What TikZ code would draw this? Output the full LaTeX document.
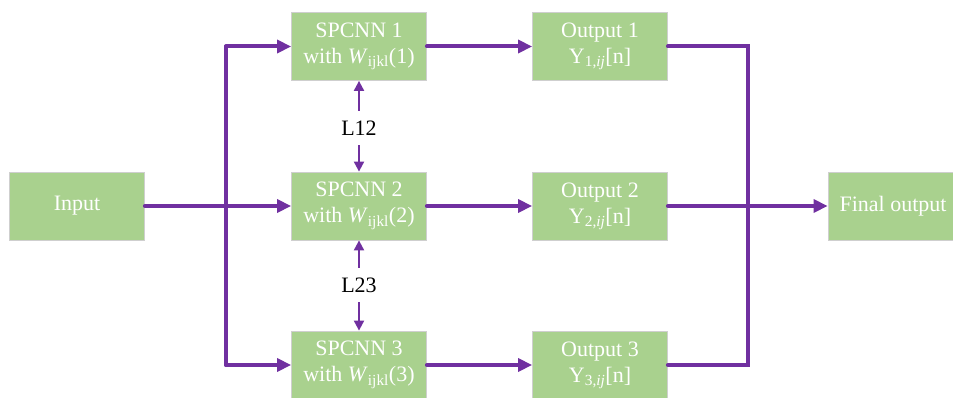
\documentclass[tikz,border=0pt]{standalone}
\usepackage{fontspec}
\setmainfont{Liberation Serif}
\usetikzlibrary{arrows.meta}
\definecolor{boxgreen}{HTML}{A9D18E}
\definecolor{boxedge}{HTML}{CFCFCF}
\definecolor{flowpurple}{HTML}{7030A0}
\tikzset{
  block/.style={draw=boxedge, line width=0.8pt, fill=boxgreen, text=white,
    minimum width=135pt, minimum height=68pt, align=center,
    font=\fontsize{22}{26}\selectfont, inner sep=0pt},
  flow/.style={draw=flowpurple, line width=4pt, line join=miter, line cap=round},
  flowarrow/.style={flow, -{Triangle[length=14pt,width=13pt]}},
  linkarrow/.style={draw=flowpurple, line width=2pt, -{Triangle[length=10pt,width=10pt]}},
  linklabel/.style={font=\fontsize{22}{26}\selectfont, inner sep=0pt, minimum height=34pt}
}
\begin{document}
\begin{tikzpicture}[x=1pt,y=1pt]
\useasboundingbox (0,0) rectangle (953,397);
% blocks
\node[block] (in) at (77,191) {Input};
\node[block] (sp1) at (359,350.5) {SPCNN 1\\with \textit{W}\textsubscript{ijkl}(1)};
\node[block] (sp2) at (359,191) {SPCNN 2\\with \textit{W}\textsubscript{ijkl}(2)};
\node[block] (sp3) at (359,32) {SPCNN 3\\with \textit{W}\textsubscript{ijkl}(3)};
\node[block] (o1) at (600,350.5) {Output 1\\Y\textsubscript{1,\textit{ij}}[n]};
\node[block] (o2) at (600,191) {Output 2\\Y\textsubscript{2,\textit{ij}}[n]};
\node[block] (o3) at (600,32) {Output 3\\Y\textsubscript{3,\textit{ij}}[n]};
\node[block, minimum width=130pt] (fin) at (893,191) {Final output};
% link labels between neighbouring networks
\node[linklabel] (l12) at (359,269) {L12};
\node[linklabel] (l23) at (359,112) {L23};
% input distribution
\coordinate (jl) at (226,191);
\coordinate (jr) at (748,191);
\draw[flowarrow] (in.east) -- (sp2.west);
\draw[flow] (sp1.west -| jl) -- (sp3.west -| jl);
\draw[flowarrow] (sp1.west -| jl) -- (sp1.west);
\draw[flowarrow] (sp3.west -| jl) -- (sp3.west);
% network outputs
\draw[flowarrow] (sp1.east) -- (o1.west);
\draw[flowarrow] (sp2.east) -- (o2.west);
\draw[flowarrow] (sp3.east) -- (o3.west);
% merge to final output
\draw[flow] (o1.east) -- (o1.east -| jr) -- (o3.east -| jr) -- (o3.east);
\draw[flowarrow] (o2.east) -- (fin.west);
% lateral links
\draw[linkarrow] (l12.north) -- (sp1.south);
\draw[linkarrow] (l12.south) -- (sp2.north);
\draw[linkarrow] (l23.north) -- (sp2.south);
\draw[linkarrow] (l23.south) -- (sp3.north);
\end{tikzpicture}
\end{document}
